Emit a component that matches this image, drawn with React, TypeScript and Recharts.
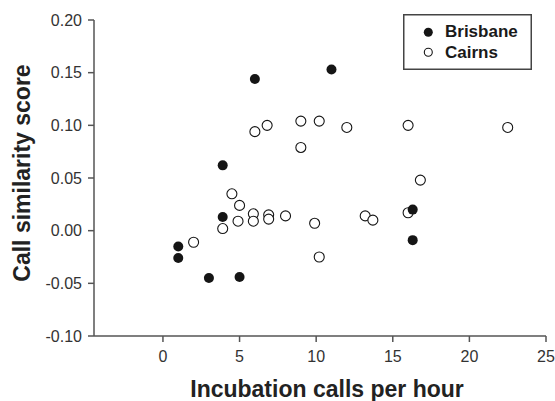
import { Legend, Scatter, ScatterChart, XAxis, YAxis } from "recharts";

const brisbaneCalls = [1, 1, 3, 5, 3.9, 3.9, 6, 11, 16.3, 16.3];
const brisbaneScore = [-0.015, -0.026, -0.045, -0.044, 0.013, 0.062, 0.144, 0.153, 0.02, -0.009];

const cairnsCalls = [
  2, 3.9, 4.5, 5, 4.9, 5.9, 5.9, 6.9, 6.9, 8, 9.9, 10.2, 13.2, 13.7, 16, 6, 6.8, 9, 10.2, 12, 16, 22.5, 9, 16.8,
];
const cairnsScore = [
  -0.011, 0.002, 0.035, 0.024, 0.009, 0.016, 0.009, 0.015, 0.011, 0.014, 0.007, -0.025, 0.014, 0.01, 0.017, 0.094,
  0.1, 0.104, 0.104, 0.098, 0.1, 0.098, 0.079, 0.048,
];

const xTicks = [0, 5, 10, 15, 20, 25];
const yTicks = [-0.1, -0.05, 0, 0.05, 0.1, 0.15, 0.2];

const FONT = "'Liberation Sans', Arial, sans-serif";
const AXIS = "#555";
const INK = "#151515";

const brisbane = brisbaneCalls.map((x, i) => ({ x, y: brisbaneScore[i] }));
const cairns = cairnsCalls.map((x, i) => ({ x, y: cairnsScore[i] }));

const FilledDot = (props: any) => <circle cx={props.cx} cy={props.cy} r={5} fill={INK} />;
const OpenDot = (props: any) => (
  <circle cx={props.cx} cy={props.cy} r={5} fill="#fff" stroke={INK} strokeWidth={1.1} />
);

const LegendBox = () => (
  <svg width={129} height={56} style={{ display: "block" }}>
    <rect x={0.75} y={0.75} width={127.5} height={54.5} fill="#fff" stroke="#444" strokeWidth={1.5} />
    <circle cx={25.3} cy={18.3} r={4.5} fill={INK} />
    <circle cx={25.3} cy={38.3} r={4} fill="#fff" stroke={INK} strokeWidth={1.1} />
    <text x={42} y={22.7} fontFamily={FONT} fontWeight={700} fontSize={17} fill="#1a1a1a">
      Brisbane
    </text>
    <text x={42} y={44.3} fontFamily={FONT} fontWeight={700} fontSize={17} fill="#1a1a1a">
      Cairns
    </text>
  </svg>
);

const tickStyle = { fontSize: 16, fill: "#333", fontFamily: FONT };

export default function App() {
  return (
    <div style={{ position: "absolute", left: 0, top: 0, width: 555, height: 401, background: "#fff" }}>
      <ScatterChart width={555} height={401} margin={{ top: 20, right: 9, bottom: 0, left: 0 }}>
        <XAxis
          type="number"
          dataKey="x"
          domain={[-4.5, 25]}
          ticks={xTicks}
          allowDataOverflow
          height={65}
          tick={tickStyle}
          tickSize={6}
          tickMargin={9}
          stroke={AXIS}
          strokeWidth={1.5}
          label={() => (
            <text x={327} y={396.7} textAnchor="middle" fontFamily={FONT} fontWeight={700} fontSize={23} fill="#222">
              Incubation calls per hour
            </text>
          )}
        />
        <YAxis
          type="number"
          dataKey="y"
          domain={[-0.1, 0.2]}
          ticks={yTicks}
          allowDataOverflow
          width={94}
          tick={tickStyle}
          tickSize={6}
          tickMargin={6}
          tickFormatter={(v: number) => v.toFixed(2)}
          stroke={AXIS}
          strokeWidth={1.5}
          label={() => (
            <text
              x={30}
              y={173}
              transform="rotate(-90, 30, 173)"
              textAnchor="middle"
              fontFamily={FONT}
              fontWeight={700}
              fontSize={23}
              fill="#222"
            >
              Call similarity score
            </text>
          )}
        />
        <Legend
          layout="vertical"
          align="center"
          verticalAlign="middle"
          content={() => <LegendBox />}
          wrapperStyle={{ position: "absolute", left: 403, top: 14, width: 129, height: 56 }}
        />
        <Scatter name="Cairns" data={cairns} shape={OpenDot} isAnimationActive={false} />
        <Scatter name="Brisbane" data={brisbane} shape={FilledDot} isAnimationActive={false} />
      </ScatterChart>
    </div>
  );
}
